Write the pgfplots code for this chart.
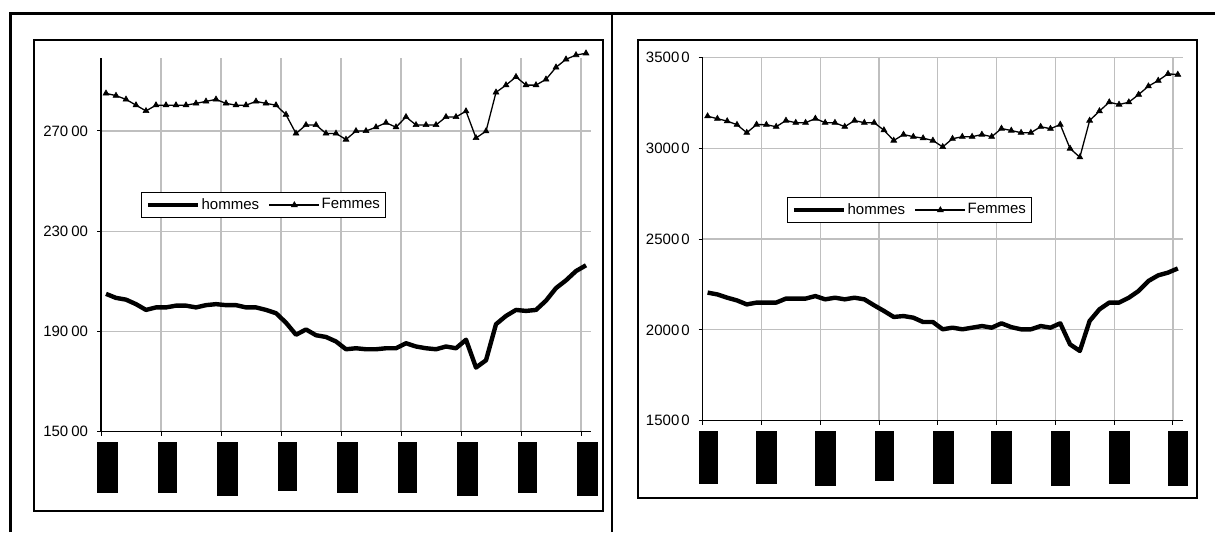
\documentclass[border=0pt]{standalone}
\usepackage{fontspec}
\setmainfont{Liberation Sans}
\usepackage{pgfplots}
\usepackage{pgfplotstable}
\pgfplotsset{compat=1.18}

% i = month index
\pgfplotstableread{
i  hommes femmes
1  20500  28500
2  20340  28410
3  20270  28260
4  20090  28030
5  19860  27800
6  19960  28030
7  19960  28030
8  20030  28030
9  20030  28030
10 19960  28100
11 20050  28180
12 20090  28260
13 20050  28100
14 20050  28030
15 19960  28030
16 19960  28180
17 19860  28100
18 19730  28030
19 19350  27650
20 18870  26900
21 19080  27240
22 18850  27240
23 18780  26900
24 18600  26900
25 18290  26660
26 18330  27000
27 18290  27000
28 18290  27150
29 18330  27330
30 18330  27150
31 18530  27560
32 18400  27240
33 18330  27240
34 18290  27240
35 18400  27560
36 18330  27560
37 18670  27790
38 17560  26720
39 17850  26990
40 19290  28540
41 19620  28830
42 19860  29160
43 19820  28830
44 19860  28830
45 20230  29060
46 20730  29540
47 21040  29860
48 21410  30030
49 21640  30100
}\gauche

\pgfplotstableread{
i  hommes femmes
1  22050  31760
2  21950  31620
3  21770  31490
4  21620  31290
5  21400  30850
6  21500  31300
7  21500  31290
8  21500  31180
9  21720  31520
10 21720  31400
11 21720  31400
12 21860  31630
13 21680  31400
14 21770  31400
15 21680  31180
16 21770  31520
17 21680  31400
18 21350  31400
19 21040  30990
20 20710  30420
21 20760  30750
22 20670  30630
23 20430  30550
24 20430  30420
25 20030  30070
26 20120  30520
27 20030  30630
28 20120  30630
29 20210  30750
30 20120  30630
31 20360  31080
32 20150  30970
33 20030  30850
34 20030  30850
35 20210  31180
36 20120  31070
37 20360  31300
38 19200  29980
39 18840  29500
40 20490  31520
41 21130  32040
42 21500  32530
43 21500  32400
44 21770  32530
45 22140  32950
46 22690  33410
47 23000  33720
48 23150  34090
49 23380  34050
}\droite

\pgfplotsset{
  panel/.style={
    scale only axis,
    anchor=south west,
    xmin=0, xmax=49,
    xtick={0,6,...,48},
    scaled y ticks=false,
    axis lines=left,
    axis line style={-, line width=0.6pt},
    tick align=outside,
    major tick length=2pt,
    tick style={black, line width=0.5pt},
    grid=major,
    major grid style={black!25, line width=0.6pt},
    font=\fontsize{7.5}{9}\selectfont,
    yticklabel style={anchor=east, inner sep=0pt, xshift=-4.3pt},
    xticklabel style={anchor=north, inner sep=0pt, yshift=-3pt},
    clip=false,
    legend columns=2,
    legend style={draw=black, line width=0.6pt, anchor=north west,
      inner xsep=2pt, inner ysep=2pt, font=\fontsize{7.5}{9}\selectfont,
      nodes={inner sep=0.8pt}},
    legend image code/.code={\draw[mark repeat=2,mark phase=2,#1]
      plot coordinates {(0pt,0pt) (12.5pt,0pt) (25pt,0pt)};},
    /tikz/every even column/.append style={column sep=4pt},
  },
  hom/.style={black, line width=2.2pt, no markers, line join=round},
  fem/.style={black, line width=0.65pt, mark=triangle*, mark size=1.7pt,
    mark options={solid, line width=0.3pt}},
}

\begin{document}
\begin{tikzpicture}
\useasboundingbox (0pt,0pt) rectangle (607.5pt,266pt);

% cell frames
\draw[line width=1.8pt] (5.25pt,0pt) -- (5.25pt,259.25pt) -- (607.5pt,259.25pt);
\draw[line width=1.4pt] (306pt,0pt) -- (306pt,259.25pt);
\draw[line width=0.75pt] (17pt,10.5pt) rectangle (301.5pt,246pt);
\draw[line width=0.75pt] (319pt,17pt) rectangle (598.5pt,246pt);

\begin{axis}[panel,
  at={(50.5pt,50.15pt)},
  width=245pt, height=186.7pt,
  ymin=15000, ymax=29900,
  ytick={15000,19000,23000,27000},
  yticklabels={150\kern1.5pt00,190\kern1.5pt00,230\kern1.5pt00,270\kern1.5pt00},
  xticklabel style={xshift=3.15pt},
  xticklabels={{\rule{10.5pt}{25.5pt}},{\rule{9.3pt}{25.5pt}},{\rule{10.5pt}{26.8pt}},
    {\rule{9.3pt}{24.3pt}},{\rule{10.3pt}{25.5pt}},{\rule{9.3pt}{25.5pt}},
    {\rule{10.3pt}{26.8pt}},{\rule{9.3pt}{25.5pt}},{\rule{10.3pt}{26.8pt}}},
  legend style={at={(0.0816,0.642)}},
]
\addplot[hom] table[x expr=\thisrow{i}-0.5, y=hommes] {\gauche};
\addlegendentry{hommes}
\addplot[fem] table[x expr=\thisrow{i}-0.5, y=femmes] {\gauche};
\addlegendentry{Femmes}
\end{axis}

\begin{axis}[panel,
  at={(351.35pt,55.65pt)},
  width=240pt, height=181.7pt,
  ymin=15000, ymax=35000,
  ytick={15000,20000,25000,30000,35000},
  yticklabels={1500\kern1pt0,2000\kern1pt0,2500\kern1pt0,3000\kern1pt0,3500\kern1pt0},
  xticklabel style={xshift=2.65pt},
  xticklabels={{\rule{9.5pt}{26.3pt}},{\rule{10.4pt}{26.3pt}},{\rule{10.4pt}{27.2pt}},
    {\rule{9.5pt}{24.7pt}},{\rule{10.5pt}{26.3pt}},{\rule{10.5pt}{26.3pt}},
    {\rule{9.5pt}{27.2pt}},{\rule{10.5pt}{26.3pt}},{\rule{9.8pt}{27.2pt}}},
  legend style={at={(0.1756,0.6156)}},
]
\addplot[hom] table[x expr=\thisrow{i}-0.5, y=hommes] {\droite};
\addlegendentry{hommes}
\addplot[fem] table[x expr=\thisrow{i}-0.5, y=femmes] {\droite};
\addlegendentry{Femmes}
\end{axis}
\end{tikzpicture}
\end{document}
